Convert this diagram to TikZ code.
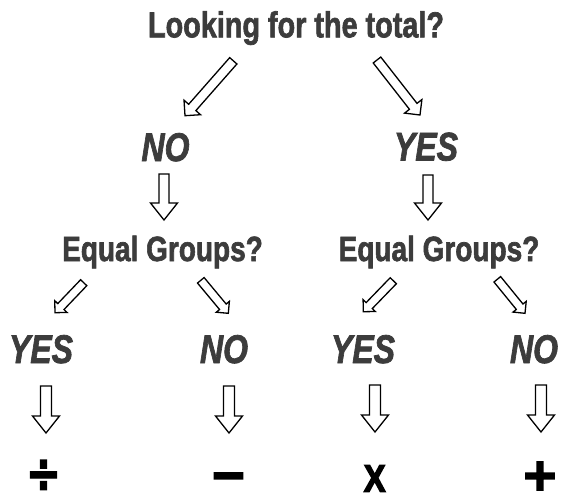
\documentclass[tikz,border=0pt]{standalone}
\usepackage{fontspec}
\setmainfont{Liberation Sans}
\newfontfamily\symfont{DejaVu Sans}
\usetikzlibrary{calc}
\definecolor{txtgray}{HTML}{3C3C3C}
\tikzset{
  lbl/.style={anchor=base, inner sep=0pt, text=txtgray},
  ttl/.style={lbl, font=\fontsize{36}{40}\selectfont\bfseries\addfontfeature{FakeBold=2}},
  ans/.style={lbl, font=\fontsize{40}{44}\selectfont\bfseries\itshape\addfontfeature{FakeBold=2}},
  grp/.style={lbl, font=\fontsize{35}{40}\selectfont\bfseries\addfontfeature{FakeBold=2}},
  sym/.style={anchor=center, inner sep=0pt, text=black},
  arrowline/.style={draw=black, fill=white, line width=1.3pt, line join=miter},
}
\newcommand\cx[1]{\scalebox{0.8}[1]{#1}}
% block arrow: from, to, shaft half width, head half width, head length
\newcommand\blkarrow[5]{%
  \coordinate (hb) at ($(#2)!#5!(#1)$);
  \draw[arrowline] ($(#1)!#3!90:(#2)$) -- ($(hb)!#3!90:(#2)$) -- ($(hb)!#4!90:(#2)$)
    -- (#2) -- ($(hb)!#4!-90:(#2)$) -- ($(hb)!#3!-90:(#2)$) -- ($(#1)!#3!-90:(#2)$) -- cycle;
}
\begin{document}
\begin{tikzpicture}[x=1pt,y=-1pt]
\useasboundingbox[fill=white] (0,0) rectangle (562,499);
% texts
\node[ttl] (title) at (296,37.3) {\scalebox{0.8}[1]{Looking for the total?}};
\node[ans] (no1) at (165.5,161) {\cx{NO}};
\node[ans] (yes1) at (426,160.5) {\cx{YES}};
\node[grp] (eqL) at (162.5,261) {\cx{Equal Groups?}};
\node[grp] (eqR) at (439,261) {\cx{Equal Groups?}};
\node[ans] (yesL) at (41,363) {\cx{YES}};
\node[ans] (noL) at (224,363) {\cx{NO}};
\node[ans] (yesR) at (363,363) {\cx{YES}};
\node[ans] (noR) at (534,363) {\cx{NO}};
\node[sym] (div) at (43.5,476) {\symfont\bfseries\fontsize{42}{48}\selectfont\addfontfeature{FakeBold=2.5}\scalebox{1}[1.3]{÷}};
\node[sym] (minus) at (228.5,481.5) {\symfont\bfseries\fontsize{44}{48}\selectfont\addfontfeature{FakeBold=5}−};
\node[sym] (times) at (374.7,478.5) {\fontsize{38}{44}\selectfont\bfseries\addfontfeature{FakeBold=4}\scalebox{0.85}[1]{X}};
\node[sym] (plus) at (540,476) {\symfont\bfseries\fontsize{44}{48}\selectfont\addfontfeature{FakeBold=5}+};
% arrow end points
\coordinate (a1s) at (233.3,60.8);  \coordinate (a1e) at (185,115.7);
\coordinate (a2s) at (377,60);      \coordinate (a2e) at (420,115);
\coordinate (d1s) at (164,174);     \coordinate (d1e) at (164,220);
\coordinate (d2s) at (428,175);     \coordinate (d2e) at (428,220);
\coordinate (b1s) at (83.7,282.7);  \coordinate (b1e) at (55,312.7);
\coordinate (b2s) at (200.8,280.3); \coordinate (b2e) at (228.3,313.3);
\coordinate (b3s) at (393.3,280.7); \coordinate (b3e) at (363.3,311.7);
\coordinate (b4s) at (497.3,279.3); \coordinate (b4e) at (525,313.3);
\coordinate (c1s) at (46,386);      \coordinate (c1e) at (46,433);
\coordinate (c2s) at (229,386);     \coordinate (c2e) at (229,433);
\coordinate (c3s) at (375,385);     \coordinate (c3e) at (375,432);
\coordinate (c4s) at (541,385);     \coordinate (c4e) at (541,432);
% arrows
\blkarrow{a1s}{a1e}{4.8pt}{11pt}{11pt}
\blkarrow{a2s}{a2e}{4.8pt}{11pt}{11pt}
\blkarrow{d1s}{d1e}{5pt}{13.5pt}{17pt}
\blkarrow{d2s}{d2e}{5pt}{13.5pt}{17pt}
\blkarrow{b1s}{b1e}{4.3pt}{8.5pt}{8.5pt}
\blkarrow{b2s}{b2e}{4.3pt}{8.5pt}{8.5pt}
\blkarrow{b3s}{b3e}{4.3pt}{8.5pt}{8.5pt}
\blkarrow{b4s}{b4e}{4.3pt}{8.5pt}{8.5pt}
\blkarrow{c1s}{c1e}{5.5pt}{13.5pt}{17pt}
\blkarrow{c2s}{c2e}{5.5pt}{13.5pt}{17pt}
\blkarrow{c3s}{c3e}{5.5pt}{13.5pt}{17pt}
\blkarrow{c4s}{c4e}{5.5pt}{13.5pt}{17pt}
\end{tikzpicture}
\end{document}
